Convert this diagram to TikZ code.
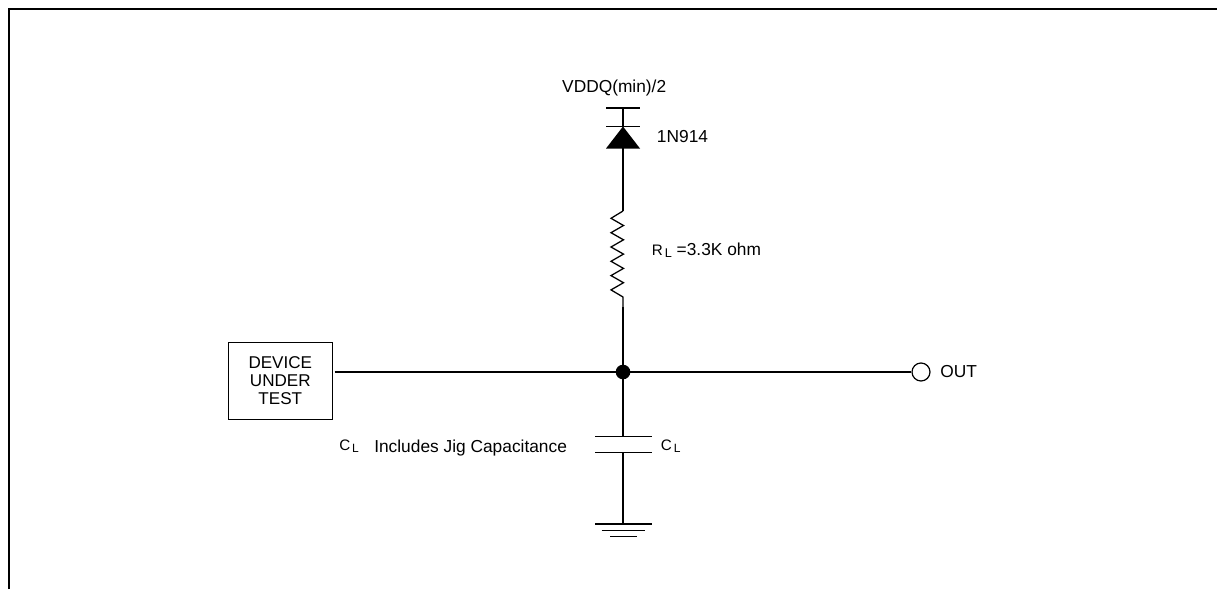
\documentclass[tikz,border=0pt]{standalone}
\usepackage{fontspec}
\setmainfont{Liberation Sans}
\begin{document}
\begin{tikzpicture}[x=0.75pt,y=-0.75pt,
  font=\fontsize{13}{15.5}\selectfont,
  wire/.style={line width=0.95pt, black},
  lbl/.style={inner sep=0pt, anchor=base west},
]
\useasboundingbox (0,0) rectangle (1217,589);
% frame
\draw[line width=1.5pt] (9.3,589) -- (9.3,9.3) -- (1217,9.3);

% key points on the main vertical
\coordinate (vtop) at (623,108);
\coordinate (kbar) at (623,126.5);
\coordinate (abase) at (623,148);
\coordinate (rtop) at (623,211);
\coordinate (rbot) at (623,307);
\coordinate (J) at (623,372);
\coordinate (ctop) at (623,436.7);
\coordinate (cbot) at (623,452.7);
\coordinate (gnd) at (623,524);

% supply bar and diode
\draw[wire] (606,108) -- (640,108);
\draw[wire] (vtop) -- (kbar);
\draw[wire] (606,126.5) -- (640,126.5);
\fill (606,148.5) -- (640,148.5) -- (kbar) -- cycle;
\draw[wire] (abase) -- (rtop);

% resistor
\draw[wire] (rtop) -- (611,218.3) -- (623.5,225.5) -- (611,232.7) -- (623.5,239.8)
  -- (611,247) -- (623.5,254.1) -- (611,261.3) -- (623.5,268.4) -- (611,275.6)
  -- (623.5,282.7) -- (611,289.9) -- (623,297) -- (rbot);
\draw[wire] (rbot) -- (J);

% DUT and output
\node[draw, line width=0.8pt, minimum width=78pt, minimum height=57.5pt,
      inner sep=0pt, align=center, font=\fontsize{12.8}{13.3}\selectfont]
      (dut) at (280.3,380.7) {DEVICE\\UNDER\\TEST};
\node[draw, circle, line width=0.9pt, minimum size=13.5pt, inner sep=0pt] (out) at (921,372) {};
\draw[wire] ([xshift=1.3pt]dut.east |- J) -- (out.west);
\fill (J) circle (7.3);

% capacitor
\draw[wire] (J) -- (ctop);
\draw[wire] (595,436.7) -- (652.3,436.7);
\draw[wire] (595,452.7) -- (652.3,452.7);
\draw[wire] (cbot) -- (gnd);

% ground
\draw[wire] (595,524) -- (652.3,524);
\draw[wire] (601.7,530.3) -- (645,530.3);
\draw[wire] (610,536.7) -- (636.7,536.7);

% labels
\node[inner sep=0pt, anchor=base] (vlabel) at (614.2,92) {VDDQ(min)/2};
\node[lbl] (dlabel) at (656.7,142.7) {1N914};
\node[lbl] (rlabel) at (651.7,255.7) {{\fontsize{11.4}{13}\selectfont R}\kern1.4pt\raisebox{-1.6pt}{\fontsize{9.5}{11}\selectfont L} =3.3K ohm};
\node[lbl] (outlabel) at (940,377) {OUT};
\node[lbl] (clabel) at (660.7,450.5) {{\fontsize{11.4}{13}\selectfont C}\kern1.4pt\raisebox{-1.2pt}{\fontsize{9}{11}\selectfont L}};
\node[lbl] (cnote) at (339,450.5) {{\fontsize{11.4}{13}\selectfont C}\kern1.4pt\raisebox{-1.2pt}{\fontsize{9}{11}\selectfont L}};
\node[lbl] (note) at (374,452.3) {Includes Jig Capacitance};
\end{tikzpicture}
\end{document}
